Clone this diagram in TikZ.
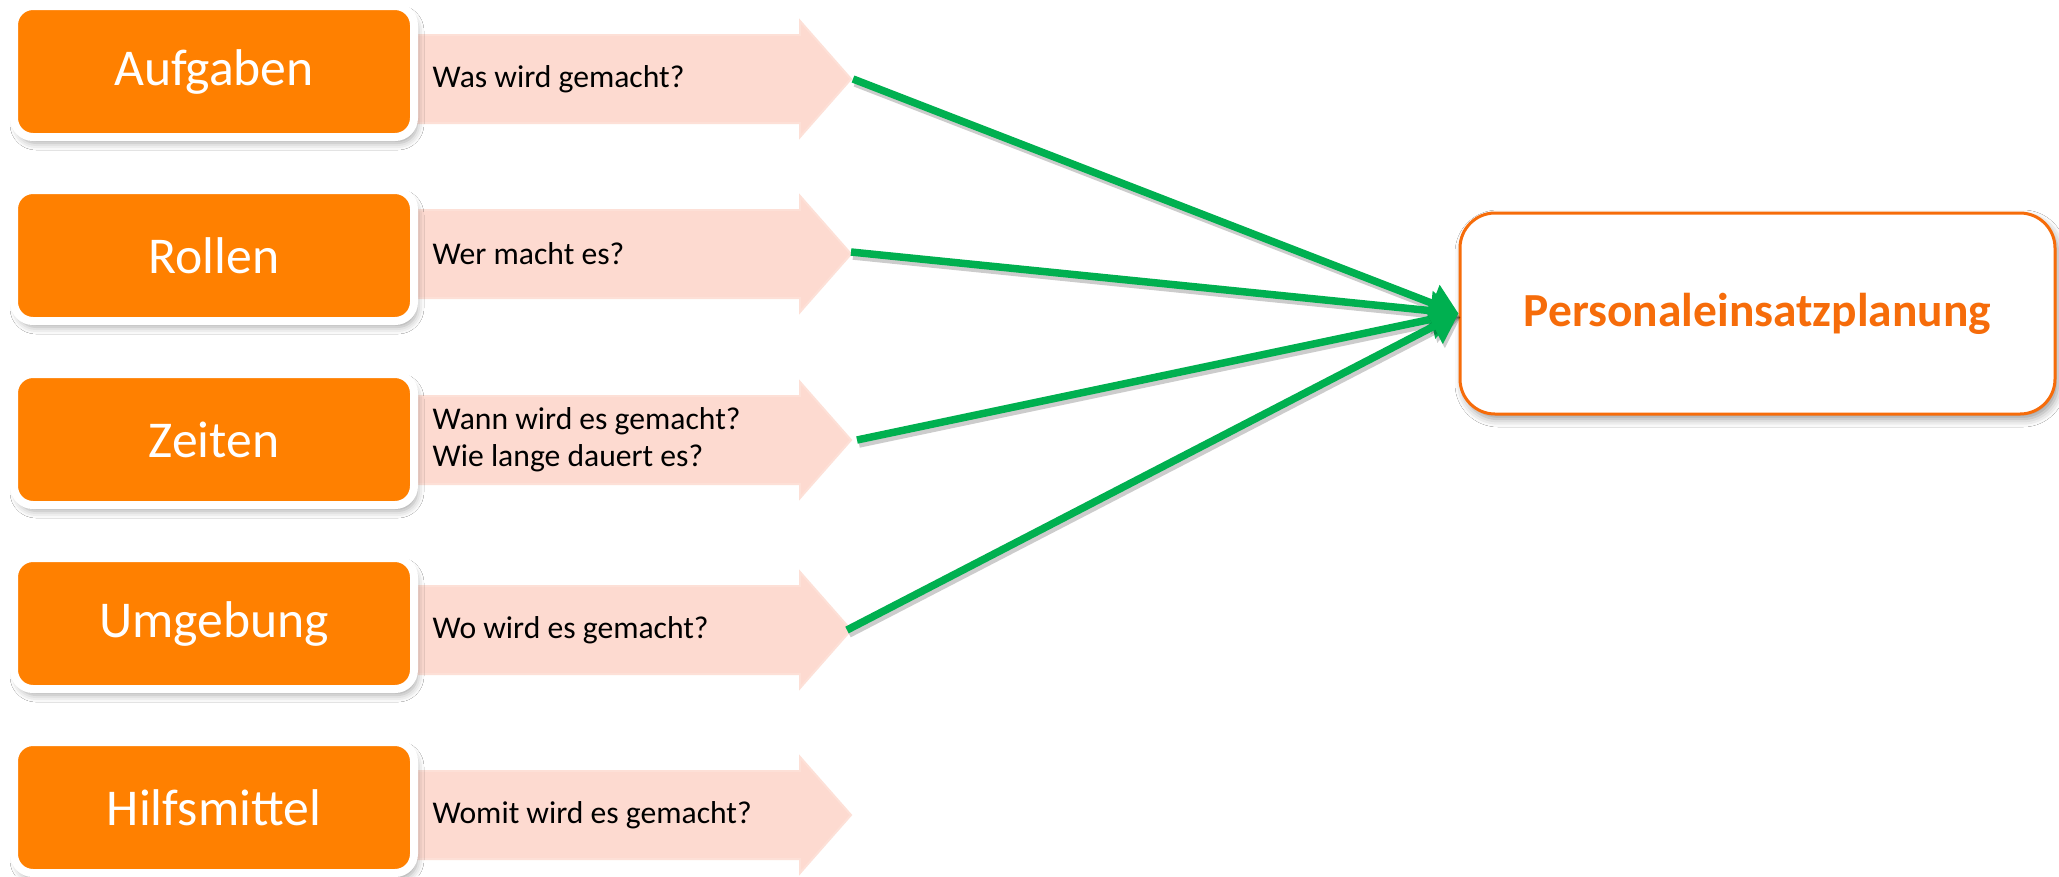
\documentclass[tikz,border=0pt]{standalone}
\usepackage{fontspec}
\setmainfont{Carlito}
\usetikzlibrary{arrows.meta,shadows.blur}
\definecolor{boxorange}{RGB}{255,128,0}
\definecolor{qpink}{RGB}{253,218,208}
\definecolor{linkgreen}{RGB}{0,176,80}
\definecolor{planorange}{RGB}{246,108,10}
\tikzset{
  topic/.style={fill=boxorange, draw=white, line width=0.8mm, rounded corners=1.9mm,
    minimum width=40mm, minimum height=13.1mm, inner sep=0pt, text=white,
    font=\fontsize{14.7}{17}\selectfont,
    blur shadow={shadow xshift=0.3mm, shadow yshift=-0.6mm, shadow blur radius=0.7mm, shadow opacity=35}},
  question/.style={anchor=west, align=left, inner sep=0pt, font=\fontsize{9}{10.5}\selectfont},
  qarrow/.style={fill=qpink, draw=qpink!85!white, line width=0.2mm},
  plan/.style={fill=white, draw=planorange, line width=0.3mm, rounded corners=3.5mm,
    minimum width=59.5mm, minimum height=20.1mm, text=planorange,
    font=\fontsize{13.5}{16}\selectfont\bfseries,
    blur shadow={shadow xshift=0.3mm, shadow yshift=-0.5mm, shadow blur radius=0.8mm, shadow opacity=40}},
  greentip/.style={-{Triangle[length=2.8mm,width=3.8mm]}},
  link/.style={draw=linkgreen, line width=0.75mm, greentip,
    preaction={draw=black, draw opacity=0.2, fill opacity=0.2, line width=0.75mm, greentip,
      transform canvas={xshift=0.2mm,yshift=-0.4mm}}}
}
\begin{document}
\begin{tikzpicture}[x=0.1mm, y=-0.1mm]
  \useasboundingbox (0,0) rectangle (2059,876);
  \fill[white] (0,0) rectangle (2059,876);

  % question arrows, one per row
  \foreach \n/\ay/\ask in {
      1/79/{Was wird gemacht?},
      2/254/{Wer macht es?},
      3/440/{Wann wird es gemacht?\\Wie lange dauert es?},
      4/630/{Wo wird es gemacht?},
      5/815/{Womit wird es gemacht?}} {
    \path[qarrow] (400,\ay-44) -- (800,\ay-44) -- (800,\ay-58) -- (851,\ay)
      -- (800,\ay+58) -- (800,\ay+44) -- (400,\ay+44) -- cycle;
    \node[question] (q\n) at (432,\ay) {\ask};
  }

  % topic boxes
  \node[topic] (aufgaben)    at (214,71.5)  {Aufgaben};
  \node[topic] (rollen)      at (214,255.5) {Rollen};
  \node[topic] (zeiten)      at (214,439.5) {Zeiten};
  \node[topic] (umgebung)    at (214,623.5) {Umgebung};
  \node[topic] (hilfsmittel) at (214,807.5) {Hilfsmittel};

  % target box
  \node[plan] (plan) at (1757.5,313.5) {Personaleinsatzplanung};

  % start points of the links at the arrow tips
  \coordinate (s1) at (853,79);
  \coordinate (s2) at (851,252);
  \coordinate (s3) at (857,440);
  \coordinate (s4) at (847,630);

  \draw[link] (s1) -- (plan.west);
  \draw[link] (s2) -- (plan.west);
  \draw[link] (s3) -- (plan.west);
  \draw[link] (s4) -- (plan.west);
\end{tikzpicture}
\end{document}
